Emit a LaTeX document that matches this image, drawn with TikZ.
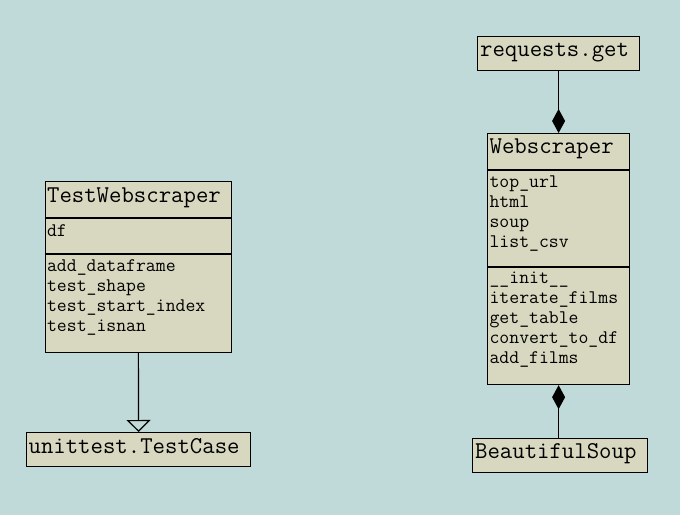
\documentclass[tikz,border=0pt]{standalone}
\usepackage{fontspec}
\usetikzlibrary{arrows.meta}
\definecolor{umlbg}{RGB}{192,217,217}
\definecolor{umlfill}{RGB}{216,216,192}
\newcommand{\titlefont}{\ttfamily\fontsize{24.1}{26}\selectfont}
\newcommand{\memberfont}{\ttfamily\fontsize{19.2}{20}\selectfont}
\tikzset{
    classbox/.style = {draw, fill = umlfill, line width = 1.2pt, inner sep = 0pt, anchor = north west},
    classtitle/.style = {anchor = base west, inner sep = 0pt, font = \titlefont},
    member/.style = {anchor = base west, inner sep = 0pt, font = \memberfont}
}
\begin{document}
\begin{tikzpicture}[x = 1pt, y = -1pt, line width = 1.2pt]
    \fill[umlbg] (0,0) rectangle (680,515);
    \useasboundingbox (0,0) rectangle (680,515);
    % left side
    \node[classbox, minimum width = 186.5pt, minimum height = 171pt] (tw) at (44.5,181) {};
    \draw (tw.west |- 0,218) -- (tw.east |- 0,218);
    \draw (tw.west |- 0,254) -- (tw.east |- 0,254);
    \node[classtitle] (tw-name) at (46.5,202) {TestWebscraper};
    \node[member] (tw-df) at (46.5,236) {df};
    \node[member] (tw-m1) at (46.5,271) {add\_dataframe};
    \node[member] (tw-m2) at (46.5,291) {test\_shape};
    \node[member] (tw-m3) at (46.5,311) {test\_start\_index};
    \node[member] (tw-m4) at (46.5,331) {test\_isnan};
    \node[classbox, minimum width = 224pt, minimum height = 34pt] (tc) at (26,432) {};
    \node[classtitle] (tc-name) at (28,453) {unittest.TestCase};
    \draw[-{Triangle[open, length = 12pt, width = 24pt, fill = umlbg]}] (tw.south) -- (tc.north);
    % right side
    \node[classbox, minimum width = 162pt, minimum height = 34pt] (req) at (477,36) {};
    \node[classtitle] (req-name) at (479.5,56) {requests.get};
    \node[classbox, minimum width = 142pt, minimum height = 251pt] (ws) at (487,133) {};
    \draw (ws.west |- 0,170) -- (ws.east |- 0,170);
    \draw (ws.west |- 0,267) -- (ws.east |- 0,267);
    \node[classtitle] (ws-name) at (489,153) {Webscraper};
    \node[member] (ws-a1) at (489,187) {top\_url};
    \node[member] (ws-a2) at (489,207) {html};
    \node[member] (ws-a3) at (489,227) {soup};
    \node[member] (ws-a4) at (489,247) {list\_csv};
    \node[member] (ws-m1) at (489,283) {\_\_init\_\_};
    \node[member] (ws-m2) at (489,303) {iterate\_films};
    \node[member] (ws-m3) at (489,323) {get\_table};
    \node[member] (ws-m4) at (489,343) {convert\_to\_df};
    \node[member] (ws-m5) at (489,363) {add\_films};
    \node[classbox, minimum width = 175pt, minimum height = 34pt] (bs) at (472,438) {};
    \node[classtitle] (bs-name) at (474.5,458) {BeautifulSoup};
    \draw[-{Diamond[length = 24pt, width = 13pt]}] (req.south) -- (ws.north);
    \draw[-{Diamond[length = 24pt, width = 13pt]}] (ws.south |- bs.north) -- (ws.south);
\end{tikzpicture}
\end{document}
